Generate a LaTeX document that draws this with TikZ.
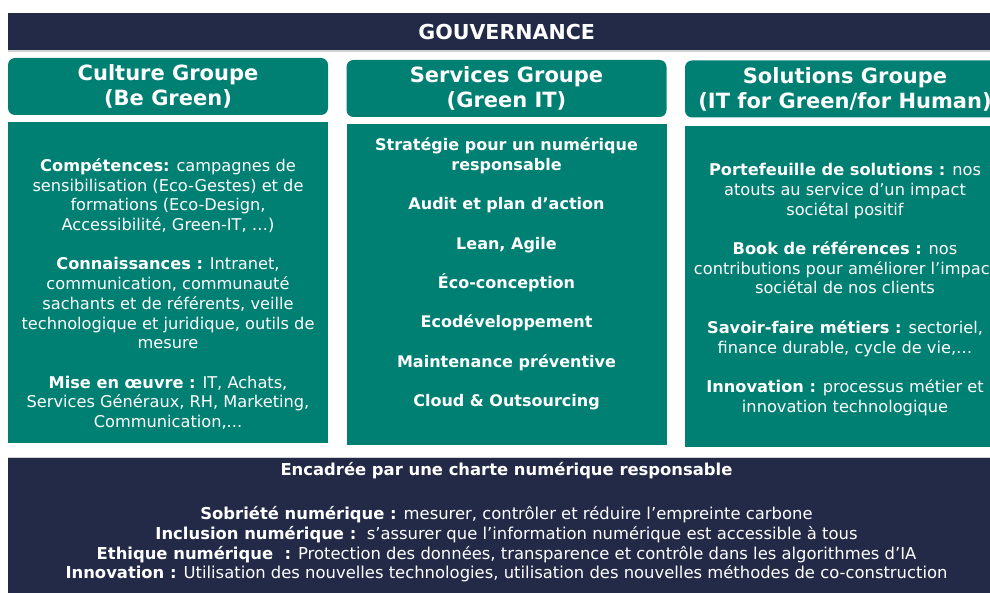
\documentclass[tikz,border=0pt]{standalone}
\usepackage{fontspec}
\setmainfont{DejaVu Sans}
\usepackage{xcolor}
\definecolor{groupteal}{RGB}{0, 127, 115}
\definecolor{govnavy}{RGB}{35, 42, 72}
\usetikzlibrary{positioning}

\begin{document}
\begin{tikzpicture}[x=1pt, y=-1pt,
    navybar/.style={fill=govnavy, anchor=north west, inner sep=0pt, text=white},
    grouphead/.style={fill=groupteal, rounded corners=7pt, minimum width=320pt,
        minimum height=57pt, inner sep=0pt, text=white, align=center,
        font=\fontsize{21}{25}\selectfont\bfseries},
    groupbody/.style={fill=groupteal, minimum width=320pt, minimum height=321pt, inner sep=0pt},
    bodytext/.style={text=white, align=center, inner sep=0pt,
        font=\fontsize{16.2}{19.7}\selectfont},
    chartertext/.style={text=white, align=center, inner sep=0pt,
        font=\fontsize{16.4}{19.7}\selectfont},
    edgeline/.style={gray!35, line width=1.5pt}
]
            \useasboundingbox (0,0) rectangle (990,593);
            \clip (0,0) rectangle (990,593);

            % Governance bar
            \node[navybar, minimum width=997pt, minimum height=37pt,
                  font=\fontsize{20.6}{24}\selectfont\bfseries] (gov) at (8,13) {GOUVERNANCE};
            \draw[edgeline] ([yshift=-0.75pt]gov.south west) -- ([yshift=-0.75pt]gov.south east);

            % Group headers
            \node[grouphead] (culturehead) at (168,86.5) {Culture Groupe\\(Be Green)};
            \node[grouphead] (servicehead) at (506.5,88.5) {Services Groupe\\(Green IT)};
            \node[grouphead] (solutionhead) at (845,89) {Solutions Groupe\\(IT for Green/for Human)};

            % Group bodies
            \node[groupbody] (culturebody) at (168,282.5) {};
            \node[groupbody] (servicebody) at (506.5,284.5) {};
            \node[groupbody] (solutionbody) at (845,286.5) {};

            \node[bodytext] (culturetxt) at (168,294) {%
                \textbf{Compétences:} campagnes de\\sensibilisation (Eco-Gestes) et de\\
                formations (Eco-Design,\\Accessibilité, Green-IT, …)\\[19.7pt]
                \textbf{Connaissances :} Intranet,\\communication, communauté\\
                sachants et de référents, veille\\technologique et juridique, outils de\\mesure\\[19.7pt]
                \textbf{Mise en œuvre :} IT, Achats,\\Services Généraux, RH, Marketing,\\Communication,...};
            \node[bodytext, font=\fontsize{16}{19.7}\selectfont\bfseries] (servicetxt) at (506.5,274) {%
                Stratégie pour un numérique\\responsable\\[19.7pt]
                Audit et plan d’action\\[19.7pt]
                Lean, Agile\\[19.7pt]
                Éco-conception\\[19.7pt]
                Ecodéveloppement\\[19.7pt]
                Maintenance préventive\\[19.7pt]
                Cloud \& Outsourcing};
            \node[bodytext] (solutiontxt) at (845,289.5) {%
                \textbf{Portefeuille de solutions :} nos\\atouts au service d’un impact\\sociétal positif\\[19.7pt]
                \textbf{Book de références :} nos\\contributions pour améliorer l’impact\\sociétal de nos clients\\[19.7pt]
                \textbf{Savoir-faire métiers :} sectoriel,\\finance durable, cycle de vie,…\\[19.7pt]
                \textbf{Innovation :} processus métier et\\innovation technologique};

            % Charter
            \node[navybar, minimum width=997pt, minimum height=140pt] (charter) at (8,458) {};
            \draw[edgeline] ([yshift=0.75pt]charter.north west) -- ([yshift=0.75pt]charter.north east);
            \node[chartertext, font=\fontsize{16.4}{19.7}\selectfont\bfseries] (chartertitle) at (506.5,471)
                {Encadrée par une charte numérique responsable};
            \node[chartertext] (chartertxt) at (506.5,544.5) {%
                \textbf{Sobriété numérique :} mesurer, contrôler et réduire l’empreinte carbone\\
                \textbf{Inclusion numérique :}\ \ s’assurer que l’information numérique est accessible à tous\\
                \textbf{Ethique numérique\ \ :} Protection des données, transparence et contrôle dans les algorithmes d’IA\\
                \textbf{Innovation :} Utilisation des nouvelles technologies, utilisation des nouvelles méthodes de co-construction};
\end{tikzpicture}
\end{document}
